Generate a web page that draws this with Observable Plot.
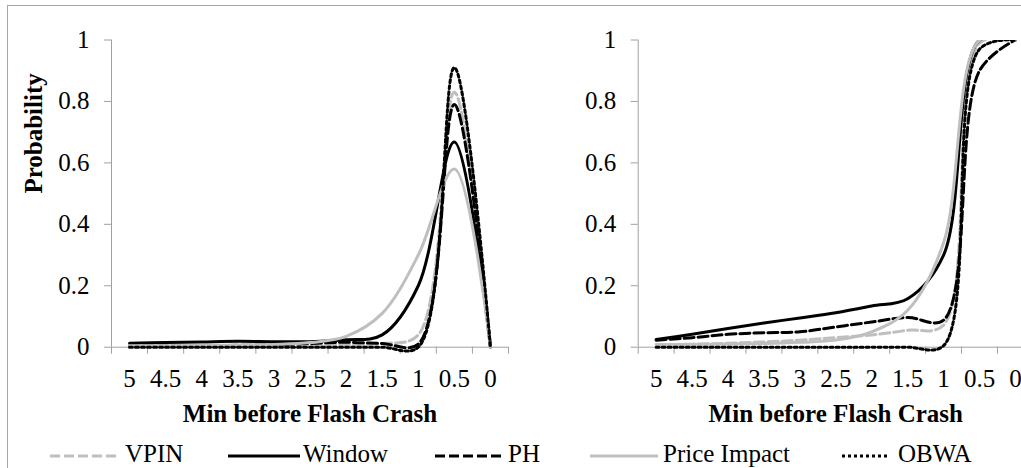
<!DOCTYPE html>
<html>
<head>
<meta charset="utf-8">
<script src="https://cdn.jsdelivr.net/npm/d3@7"></script>
<script src="https://cdn.jsdelivr.net/npm/@observablehq/plot@0.6"></script>
<style>
html, body { margin: 0; padding: 0; background: #ffffff; }
#chart { position: relative; width: 1021px; height: 468px; overflow: hidden; background: #ffffff; }
#chart svg { position: absolute; top: 0; }
#frame { position: absolute; left: 7px; top: 5px; width: 1100px; height: 600px; border-left: 1px solid #a6a6a6; border-top: 1px solid #a6a6a6; pointer-events: none; }
</style>
</head>
<body>
<div id="chart"></div>
<script>
// ---------- data ----------
const minutes = [5, 4.5, 4, 3.5, 3, 2.5, 2, 1.5, 1, 0.5, 0];
const xTickLabels = ["5", "4.5", "4", "3.5", "3", "2.5", "2", "1.5", "1", "0.5", "0"];
const yTicks = [0, 0.2, 0.4, 0.6, 0.8, 1];
const yTickLabels = ["0", "0.2", "0.4", "0.6", "0.8", "1"];
const seriesNames = ["VPIN", "Window", "PH", "Price Impact", "OBWA"];
const xTitle = "Min before Flash Crash";
const yTitle = "Probability";

// left panel
const leftVPIN        = [0.003, 0.003, 0.003, 0.004, 0.005, 0.006, 0.008, 0.012, 0.04, 0.83, 0];
const leftWindow      = [0.013, 0.015, 0.017, 0.019, 0.018, 0.018, 0.024, 0.04, 0.2, 0.668, 0];
const leftPH          = [0.004, 0.004, 0.005, 0.006, 0.008, 0.012, 0.016, 0.012, 0.01, 0.79, 0];
const leftPriceImpact = [0.005, 0.005, 0.006, 0.007, 0.009, 0.015, 0.035, 0.11, 0.3, 0.58, 0];
const leftOBWA        = [0, 0, 0, 0, 0, 0, 0, 0, 0, 0.91, 0];

// right panel
const rightVPIN        = [0.008, 0.01, 0.013, 0.017, 0.023, 0.031, 0.04, 0.055, 0.072, 0.99, 1];
const rightWindow      = [0.025, 0.042, 0.061, 0.079, 0.095, 0.112, 0.134, 0.158, 0.3, 1, 1];
const rightPH          = [0.023, 0.031, 0.042, 0.047, 0.05, 0.066, 0.082, 0.097, 0.088, 0.9, 1];
const rightPriceImpact = [0.008, 0.009, 0.01, 0.012, 0.016, 0.023, 0.05, 0.12, 0.34, 1, 1];
const rightOBWA        = [0, 0, 0, 0, 0, 0, 0, 0, 0.005, 0.97, 1];

// ---------- styles ----------
const AX = "#a0a0a0";
const FONT = "Liberation Serif";
const FS = 25;
const styles = {
  "VPIN":         {stroke: "#bfbfbf", dash: "10,4"},
  "Window":       {stroke: "#000000", dash: null},
  "PH":           {stroke: "#000000", dash: "10,4"},
  "Price Impact": {stroke: "#bfbfbf", dash: null},
  "OBWA":         {stroke: "#000000", dash: "3,3"}
};
const legendLayout = [
  {x1: 50, x2: 120, tx: 125},
  {x1: 228, x2: 300, tx: 303},
  {x1: 435, x2: 505, tx: 508},
  {x1: 590, x2: 658, tx: 663},
  {x1: 842, x2: 888, tx: 898}
];

const chart = document.getElementById("chart");
const ns = "http://www.w3.org/2000/svg";

function makePanel(seriesValues, cfg) {
  const rows = seriesNames.map((name, si) => minutes.map((m, i) => ({m, v: seriesValues[si][i], name})));
  const bounds = minutes.map(m => m + 0.25).concat([minutes[minutes.length - 1] - 0.25]);
  const marks = [
    Plot.ruleY([0], {stroke: AX}),
    Plot.ruleX([bounds[0]], {stroke: AX}),
    Plot.axisX(bounds, {tickSize: 7, color: AX, tickFormat: () => "", label: null}),
    Plot.axisX(minutes, {tickSize: 0, tickPadding: 22, fontSize: FS, color: "black", label: null,
      tickFormat: d => xTickLabels[minutes.indexOf(d)]}),
    Plot.axisY(yTicks, {tickSize: 7, color: AX, tickFormat: () => "", label: null}),
    Plot.axisY(yTicks, {tickSize: 0, tickPadding: 22, fontSize: FS, color: "black", label: null,
      tickFormat: d => yTickLabels[yTicks.indexOf(d)]}),
    Plot.text([xTitle], {text: d => d, frameAnchor: "bottom", lineAnchor: "top", dy: 57,
      fontWeight: "bold", fontSize: FS, fill: "black", fontFamily: FONT})
  ];
  if (cfg.yLabel) {
    marks.push(Plot.text([yTitle], {text: d => d, frameAnchor: "left", rotate: -90, dx: -78,
      fontWeight: "bold", fontSize: FS, fill: "black", fontFamily: FONT}));
  }
  rows.forEach((r, si) => {
    const st = styles[seriesNames[si]];
    marks.push(Plot.line(r, {x: "m", y: "v", curve: "catmull-rom", stroke: st.stroke,
      strokeWidth: 3, strokeDasharray: st.dash, strokeLinejoin: "round"}));
  });
  const svg = Plot.plot({
    width: cfg.width, height: 440,
    marginLeft: cfg.marginLeft, marginRight: cfg.marginRight,
    marginTop: 39.5, marginBottom: 93.3,
    x: {type: "linear", domain: [bounds[0], bounds[bounds.length - 1]]},
    y: {type: "linear", domain: [0, 1]},
    style: {fontFamily: FONT, fontSize: FS + "px", color: "black", background: "transparent", overflow: "visible"},
    marks
  });
  // clip series at the top of the plot area (values above 1 are cut off)
  const id = "clip-" + cfg.id;
  const defs = document.createElementNS(ns, "defs");
  const cp = document.createElementNS(ns, "clipPath");
  cp.setAttribute("id", id);
  const rect = document.createElementNS(ns, "rect");
  rect.setAttribute("x", cfg.marginLeft);
  rect.setAttribute("y", 39.5);
  rect.setAttribute("width", cfg.width - cfg.marginLeft - cfg.marginRight);
  rect.setAttribute("height", 1000);
  cp.appendChild(rect); defs.appendChild(cp); svg.insertBefore(defs, svg.firstChild);
  svg.querySelectorAll('g[aria-label="line"]').forEach(g => g.setAttribute("clip-path", `url(#${id})`));
  svg.style.left = cfg.left + "px";
  chart.appendChild(svg);
}

makePanel([leftVPIN, leftWindow, leftPH, leftPriceImpact, leftOBWA],
  {id: "left", left: 0, width: 520, marginLeft: 111, marginRight: 12, yLabel: true});
makePanel([rightVPIN, rightWindow, rightPH, rightPriceImpact, rightOBWA],
  {id: "right", left: 520, width: 520, marginLeft: 117.7, marginRight: 7.1, yLabel: false});

// legend
const leg = document.createElementNS(ns, "svg");
leg.setAttribute("width", 1021); leg.setAttribute("height", 468);
leg.style.left = "0px";
seriesNames.forEach((name, i) => {
  const st = styles[name], L = legendLayout[i];
  const ln = document.createElementNS(ns, "line");
  ln.setAttribute("x1", L.x1); ln.setAttribute("x2", L.x2);
  ln.setAttribute("y1", 456); ln.setAttribute("y2", 456);
  ln.setAttribute("stroke", st.stroke); ln.setAttribute("stroke-width", 3);
  if (st.dash) ln.setAttribute("stroke-dasharray", st.dash);
  leg.appendChild(ln);
  const t = document.createElementNS(ns, "text");
  t.setAttribute("x", L.tx); t.setAttribute("y", 462);
  t.setAttribute("font-size", FS);
  t.setAttribute("font-family", FONT);
  t.setAttribute("fill", "black");
  t.textContent = name;
  leg.appendChild(t);
});
chart.appendChild(leg);

const frame = document.createElement("div");
frame.id = "frame";
chart.appendChild(frame);
</script>
</body>
</html>
